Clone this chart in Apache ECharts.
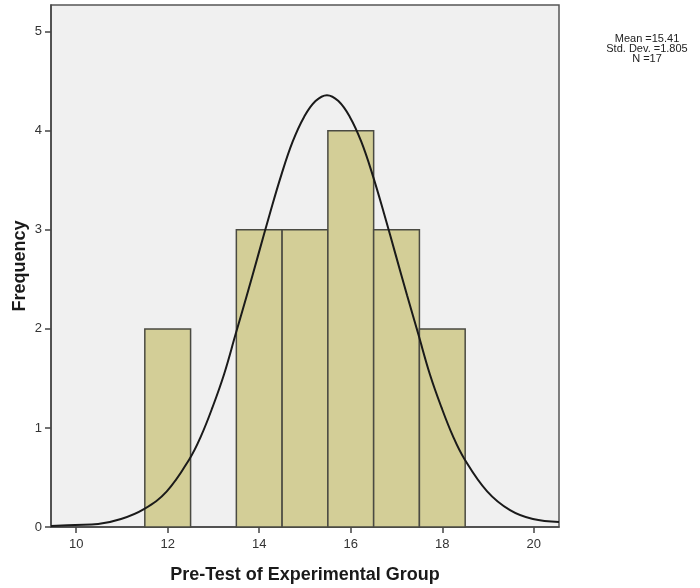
<!DOCTYPE html>
<html>
<head>
<meta charset="utf-8">
<script src="https://cdn.jsdelivr.net/npm/echarts@6/dist/echarts.min.js"></script>
<style>
html,body{margin:0;padding:0;background:#fff;}
#c{width:700px;height:588px;}
</style>
</head>
<body>
<div id="c"></div>
<script>
// Histogram bins (lower edge, upper edge, frequency)
const binStarts = [11.5, 13.5, 14.5, 15.5, 16.5, 17.5];
const binEnds   = [12.5, 14.5, 15.5, 16.5, 17.5, 18.5];
const counts    = [2, 3, 3, 4, 3, 2];

// Normal curve points
const curveX = [9.45, 9.98, 10.48, 10.98, 11.48, 11.98, 12.48, 12.73, 12.98, 13.23, 13.48, 13.73, 13.98, 14.23, 14.48, 14.73, 14.98, 15.23, 15.48,
                15.73, 15.98, 16.23, 16.48, 16.73, 16.98, 17.23, 17.48, 17.73, 17.98, 18.23, 18.48, 18.98, 19.48, 19.98, 20.55];
const curveY = [0.01, 0.02, 0.03, 0.08, 0.18, 0.36, 0.69, 0.92, 1.21, 1.54, 1.94, 2.34, 2.75, 3.16, 3.55, 3.89, 4.14, 4.30, 4.36,
                4.30, 4.14, 3.89, 3.55, 3.16, 2.75, 2.34, 1.94, 1.54, 1.21, 0.92, 0.69, 0.36, 0.17, 0.08, 0.05];

const xTicks = [10, 12, 14, 16, 18, 20];
const yTicks = [0, 1, 2, 3, 4, 5];
const statLines = ['Mean =15.41', 'Std. Dev. =1.805', 'N =17'];
const xTitle = 'Pre-Test of Experimental Group';
const yTitle = 'Frequency';

const barData = binStarts.map((s, i) => [s, binEnds[i], counts[i]]);
const lineData = curveX.map((x, i) => [x, curveY[i]]);

const chart = echarts.init(document.getElementById('c'), null, {renderer: 'canvas'});
const font = 'Arial, "Liberation Sans", sans-serif';

chart.setOption({
  animation: false,
  backgroundColor: '#ffffff',
  grid: {
    left: 51, top: 5, right: 141, bottom: 61,
    containLabel: false, outerBoundsMode: 'none',
    show: true, backgroundColor: '#f0f0f0', borderColor: '#555555', borderWidth: 1.5
  },
  xAxis: {
    type: 'value', min: 9.45, max: 20.55,
    name: xTitle, nameLocation: 'middle', nameGap: 39,
    nameTextStyle: {fontFamily: font, fontWeight: 'bold', fontSize: 18, color: '#1a1a1a'},
    axisLine: {show: true, lineStyle: {color: '#444', width: 1.5}},
    axisTick: {show: true, length: 6, customValues: xTicks, lineStyle: {color: '#444', width: 1.5}},
    axisLabel: {customValues: xTicks, margin: 11, fontFamily: font, fontSize: 13, color: '#333'},
    splitLine: {show: false}
  },
  yAxis: {
    type: 'value', min: 0, max: 5.27,
    name: yTitle, nameLocation: 'middle', nameGap: 22, nameMoveOverlap: false,
    nameTextStyle: {fontFamily: font, fontWeight: 'bold', fontSize: 18, color: '#1a1a1a'},
    axisLine: {show: true, lineStyle: {color: '#444', width: 1.5}},
    axisTick: {show: true, length: 6, customValues: yTicks, lineStyle: {color: '#444', width: 1.5}},
    axisLabel: {customValues: yTicks, margin: 9, fontFamily: font, fontSize: 13, color: '#333'},
    splitLine: {show: false}
  },
  graphic: statLines.map((t, i) => ({
    type: 'text', x: 647, y: 38.5 + i * 10,
    style: {text: t, fontFamily: font, fontSize: 11, fill: '#222', align: 'center', verticalAlign: 'middle'}
  })),
  series: [
    {
      type: 'custom',
      data: barData,
      encode: {x: [0, 1], y: 2},
      renderItem: function (params, api) {
        const p0 = api.coord([api.value(0), 0]);
        const p1 = api.coord([api.value(1), api.value(2)]);
        return {
          type: 'rect',
          shape: {x: p0[0], y: p1[1], width: p1[0] - p0[0], height: p0[1] - p1[1]},
          style: {fill: '#d3ce97', stroke: '#4a4a42', lineWidth: 1.5}
        };
      },
      z: 2
    },
    {
      type: 'line',
      data: lineData,
      smooth: 0.4,
      showSymbol: false,
      clip: true,
      lineStyle: {color: '#1a1a1a', width: 2},
      z: 3
    }
  ]
});
</script>
</body>
</html>
